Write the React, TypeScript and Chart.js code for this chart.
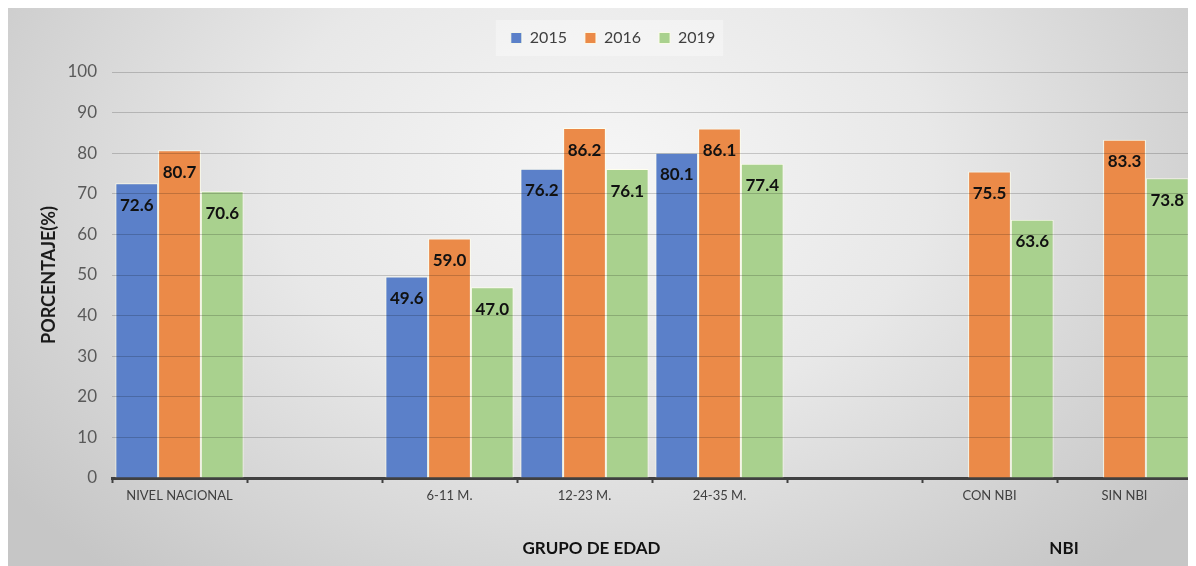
import React, { useEffect, useRef } from "react";
import { Chart, registerables } from "chart.js";

Chart.register(...registerables);

const categories = ["NIVEL NACIONAL", "", "6-11 M.", "12-23 M.", "24-35 M.", "", "CON NBI", "SIN NBI"];
const seriesNames = ["2015", "2016", "2019"];
const values2015 = [72.6, null, 49.6, 76.2, 80.1, null, null, null];
const values2016 = [80.7, null, 59.0, 86.2, 86.1, null, 75.5, 83.3];
const values2019 = [70.6, null, 47.0, 76.1, 77.4, null, 63.6, 73.8];
const seriesColors = ["#5B80C9", "#EB8A48", "#A9D18E"];
const yAxisTitle = "PORCENTAJE(%)";
const yMin = 0;
const yMax = 100;
const yStep = 10;
const groupTitles = [
  { text: "GRUPO DE EDAD", from: 2, to: 4 },
  { text: "NBI", from: 6, to: 7 },
];

const FONT = "Lato, 'Open Sans', sans-serif";

const backgroundPlugin = {
  id: "bgPlugin",
  beforeDraw(chart: any) {
    const { ctx, width, height } = chart;
    ctx.save();
    ctx.translate(width * 0.5, height * 0.3);
    ctx.scale(width * 0.62, height * 0.95);
    const g = ctx.createRadialGradient(0, 0, 0, 0, 0, 1);
    g.addColorStop(0, "#f6f6f6");
    g.addColorStop(0.45, "#e8e8e8");
    g.addColorStop(1, "#c6c6c6");
    ctx.fillStyle = g;
    ctx.fillRect(-2, -2, 4, 4);
    ctx.restore();
    ctx.save();
    ctx.fillStyle = "#bdbdbd";
    ctx.fillRect(0, 0, width, 2);
    ctx.restore();
    const legend = chart.legend;
    if (legend && legend.legendHitBoxes && legend.legendHitBoxes.length) {
      const hb = legend.legendHitBoxes;
      const first = hb[0];
      const last = hb[hb.length - 1];
      const cy = first.top + first.height / 2;
      ctx.save();
      ctx.fillStyle = "rgba(255,255,255,0.35)";
      ctx.fillRect(first.left - 15, cy - 18, last.left + last.width + 8 - (first.left - 15), 36);
      ctx.restore();
    }
  },
};

const labelsPlugin = {
  id: "labelsPlugin",
  afterDraw(chart: any) {
    const { ctx } = chart;
    ctx.save();
    ctx.font = `bold 17px ${FONT}`;
    ctx.fillStyle = "#111111";
    ctx.textAlign = "center";
    ctx.textBaseline = "middle";
    chart.data.datasets.forEach((ds: any, di: number) => {
      const meta = chart.getDatasetMeta(di);
      meta.data.forEach((bar: any, i: number) => {
        const v = ds.data[i];
        if (v === null || v === undefined) return;
        ctx.fillText(Number(v).toFixed(1), bar.x, bar.y + 22);
      });
    });
    const xs = chart.scales.x;
    ctx.font = `bold 17px ${FONT}`;
    groupTitles.forEach((gt) => {
      const x = (xs.getPixelForValue(gt.from) + xs.getPixelForValue(gt.to)) / 2 + 7;
      ctx.fillText(gt.text, x, 543);
    });
    ctx.restore();
  },
};

export default function App() {
  const ref = useRef<HTMLCanvasElement | null>(null);
  useEffect(() => {
    if (!ref.current) return;
    const yTickValues: number[] = [];
    for (let v = yMin; v <= yMax; v += yStep) yTickValues.push(v);
    const chart = new Chart(ref.current, {
      type: "bar",
      data: {
        labels: categories,
        datasets: [values2015, values2016, values2019].map((d, i) => ({
          label: seriesNames[i],
          data: d,
          backgroundColor: seriesColors[i],
          borderColor: "rgba(255,255,235,0.85)",
          borderWidth: 1,
          borderSkipped: "bottom",
          categoryPercentage: 0.95,
          barPercentage: 1,
        })),
      },
      options: {
        responsive: false,
        animation: false,
        layout: { padding: { top: 6, left: 27, right: 4, bottom: 0 } },
        plugins: {
          legend: {
            position: "top",
            labels: {
              boxWidth: 11,
              boxHeight: 11,
              padding: 18,
              color: "#404040",
              font: { family: FONT, size: 16 },
            },
          },
          subtitle: {
            display: true,
            text: " ",
            position: "top",
            weight: 500,
            color: "rgba(0,0,0,0)",
            font: { size: 10 },
            padding: { top: 0, bottom: 4 },
          },
          tooltip: { enabled: false },
        },
        scales: {
          x: {
            grid: {
              display: true,
              drawOnChartArea: false,
              drawTicks: true,
              tickLength: 5,
              tickColor: "#404040",
              tickWidth: 2,
              offset: true,
            },
            border: { display: true, color: "#404040", width: 3 },
            ticks: {
              color: "#404040",
              font: { family: FONT, size: 13 },
              padding: 5,
              maxRotation: 0,
              autoSkip: false,
            },
            afterFit: (s: any) => {
              s.height = 88;
            },
          },
          y: {
            min: yMin,
            max: yMax,
            afterBuildTicks: (s: any) => {
              s.ticks = yTickValues.map((v) => ({ value: v }));
            },
            grid: {
              z: 1,
              drawTicks: false,
              lineWidth: 1,
              color: (c: any) => (c.tick && c.tick.value === 0 ? "rgba(0,0,0,0)" : "rgba(0,0,0,0.18)"),
            },
            border: { display: false },
            ticks: {
              color: "#595959",
              font: { family: FONT, size: 17 },
              padding: 15,
            },
            title: {
              display: true,
              text: yAxisTitle,
              color: "#1a1a1a",
              font: { family: FONT, size: 18, weight: "bold" },
              padding: 4,
            },
            afterFit: (s: any) => {
              s.width = 78;
            },
          },
        },
      },
      plugins: [backgroundPlugin, labelsPlugin],
    } as any);
    return () => chart.destroy();
  }, []);
  return (
    <div style={{ marginLeft: -1, marginTop: -2 }}>
      <canvas ref={ref} width={1189} height={560} style={{ display: "block" }} />
    </div>
  );
}
